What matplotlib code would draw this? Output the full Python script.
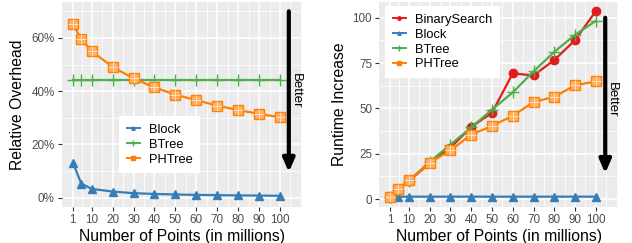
import numpy as np
import matplotlib
matplotlib.use("Agg")
import matplotlib.pyplot as plt
from matplotlib.ticker import FuncFormatter

plt.rcParams['font.family'] = ['Liberation Sans', 'DejaVu Sans']

# data
points = [1, 5, 10, 20, 30, 40, 50, 60, 70, 80, 90, 100]
x_breaks = [1, 10, 20, 30, 40, 50, 60, 70, 80, 90, 100]

# left panel: relative overhead (%)
ovh_block = [13.2, 5.3, 3.3, 2.3, 1.7, 1.4, 1.2, 1.05, 0.95, 0.85, 0.8, 0.7]
ovh_btree = [44.2] * 12
ovh_phtree = [65.2, 59.6, 55.0, 49.1, 44.8, 41.4, 38.7, 36.6, 34.6, 32.9, 31.5, 30.2]

# right panel: runtime increase
rt_binary = [0.8, 5.6, 9.9, 19.7, 28.3, 39.7, 47.6, 69.3, 68.2, 76.7, 87.7, 103.7]
rt_block = [1.0, 1.3, 1.3, 1.3, 1.3, 1.3, 1.3, 1.3, 1.3, 1.3, 1.3, 1.3]
rt_btree = [1.0, 5.0, 10.0, 20.5, 30.0, 39.5, 49.3, 58.8, 70.4, 81.2, 90.6, 98.3]
rt_phtree = [1.0, 5.7, 10.3, 20.0, 26.8, 35.5, 40.3, 45.9, 53.5, 56.4, 62.7, 64.9]

RED, BLUE, GREEN, ORANGE = '#E41A1C', '#377EB8', '#4DAF4A', '#FF7F00'
BG = '#EBEBEB'

fig = plt.figure(figsize=(6.32, 2.43), dpi=100)
W, H = 632, 243
ax1 = fig.add_axes([62 / W, (243 - 207) / H, 240 / W, 205 / H])
ax2 = fig.add_axes([379.3 / W, (243 - 207) / H, 238.4 / W, 205 / H])


def style(ax, yticks, yminor):
    ax.set_facecolor(BG)
    for s in ax.spines.values():
        s.set_visible(False)
    ax.set_xlim(-4.2, 110.5)
    ax.set_xticks(x_breaks)
    ax.set_xticks([5.5] + list(range(15, 100, 10)) + [105, 110], minor=True)
    ax.set_yticks(yticks)
    ax.set_yticks(yminor, minor=True)
    ax.grid(True, which='major', color='white', lw=1.1)
    ax.grid(True, which='minor', color='white', lw=0.55)
    ax.set_axisbelow(True)
    ax.tick_params(which='major', length=2.75, width=0.8, color='#333333',
                   labelcolor='#4D4D4D', labelsize=8.4, pad=2.5)
    ax.tick_params(which='minor', length=0)
    ax.set_xlabel('Number of Points (in millions)', fontsize=11.3, labelpad=2)


def phtree_marker(ax, x, y):
    ax.plot(x, y, color=ORANGE, lw=1.6, marker='s', ms=6.5, mfc='#FFB066',
            mec=ORANGE, mew=1.0, zorder=3)
    ax.plot(x, y, ls='none', marker='+', ms=6.5, mec='#FFE0C0', mew=0.7, zorder=4)


def legend(ax, names, anchor):
    handles = []
    for n in names:
        if n == 'BinarySearch':
            h, = ax.plot([], [], color=RED, lw=1.4, marker='o', ms=2.5)
        elif n == 'Block':
            h, = ax.plot([], [], color=BLUE, lw=1.4, marker='^', ms=2.5)
        elif n == 'BTree':
            h, = ax.plot([], [], color=GREEN, lw=1.4, marker='+', ms=5)
        else:
            h, = ax.plot([], [], color=ORANGE, lw=1.4, marker='s', ms=3)
        handles.append(h)
    lg = ax.legend(handles, names, loc='upper left', bbox_to_anchor=anchor, fontsize=9.3,
                   frameon=True, fancybox=False, framealpha=1, edgecolor='white',
                   handlelength=1.0, handletextpad=0.7, labelspacing=0.22,
                   borderpad=0.6, borderaxespad=0)
    lg.get_frame().set_linewidth(0)
    lg.set_zorder(5)


# left panel
style(ax1, [0, 20, 40, 60], [10, 30, 50, 70])
ax1.set_ylim(-3.5, 73.5)
ax1.yaxis.set_major_formatter(FuncFormatter(lambda v, p: '%d%%' % v))
ax1.set_ylabel('Relative Overhead', fontsize=11.3, labelpad=5)
ax1.plot(points, ovh_block, color=BLUE, lw=1.6, marker='^', ms=6, zorder=3)
ax1.plot(points, ovh_btree, color=GREEN, lw=1.6, marker='+', ms=8.5, mew=1.0, zorder=3)
phtree_marker(ax1, points, ovh_phtree)
ax1.annotate('', xy=(104.2, 9.6), xytext=(104.2, 70),
             arrowprops=dict(arrowstyle='-|>,head_width=0.35,head_length=0.8',
                             lw=3, color='black', shrinkA=0, shrinkB=0))
ax1.text(107.8, 40, 'Better', rotation=-90, fontsize=9.5, ha='center', va='center')
legend(ax1, ['Block', 'BTree', 'PHTree'], ((119 - 62) / 240, 1 - (116 - 2) / 205))

# right panel
style(ax2, [0, 25, 50, 75, 100], [12.5, 37.5, 62.5, 87.5])
ax2.set_ylim(-4.4, 108.7)
ax2.set_ylabel('Runtime Increase', fontsize=11.3, labelpad=4)
ax2.plot(points, rt_block, color=BLUE, lw=1.6, marker='^', ms=6, zorder=3)
ax2.plot(points, rt_binary, color=RED, lw=1.6, marker='o', ms=6, zorder=3)
ax2.plot(points, rt_btree, color=GREEN, lw=1.6, marker='+', ms=8.5, mew=1.0, zorder=3)
phtree_marker(ax2, points, rt_phtree)
ax2.annotate('', xy=(104.5, 14.2), xytext=(104.5, 100),
             arrowprops=dict(arrowstyle='-|>,head_width=0.35,head_length=0.8',
                             lw=3, color='black', shrinkA=0, shrinkB=0))
ax2.text(107.5, 55, 'Better', rotation=-90, fontsize=9.5, ha='center', va='center')
legend(ax2, ['BinarySearch', 'Block', 'BTree', 'PHTree'],
       ((385 - 379.3) / 238.4, 1 - (6 - 2) / 205))

fig.savefig('out.png', dpi=100)
